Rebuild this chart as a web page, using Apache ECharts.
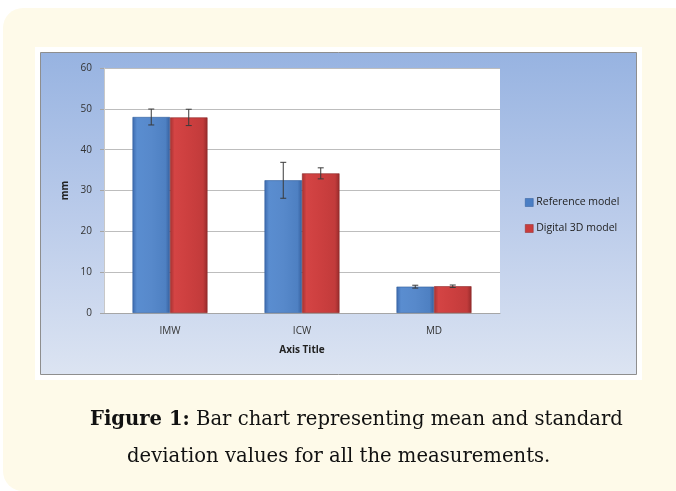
<!DOCTYPE html>
<html>
<head>
<meta charset="utf-8">
<script src="https://cdn.jsdelivr.net/npm/echarts@6/dist/echarts.min.js"></script>
<style>
html,body{margin:0;padding:0;background:#ffffff;}
#chart{width:676px;height:491px;}
</style>
</head>
<body>
<div id="chart"></div>
<script>
// ---- data ----
var categories = ['IMW', 'ICW', 'MD'];
var seriesNames = ['Reference model', 'Digital 3D model'];
var refMeans = [48.0, 32.5, 6.45];
var refSD = [1.95, 4.4, 0.35];
var digMeans = [47.9, 34.2, 6.55];
var digSD = [2.0, 1.35, 0.3];
var yTicks = [0, 10, 20, 30, 40, 50, 60];
var xAxisTitle = 'Axis Title';
var yAxisTitle = 'mm';
var captionBold = 'Figure 1:';
var captionLine1 = ' Bar chart representing mean and standard';
var captionLine2 = 'deviation values for all the measurements.';

var chart = echarts.init(document.getElementById('chart'), null, {renderer: 'canvas'});

var BAR_FRAC = 0.284; // bar width as fraction of category band
var labelFont = '"Open Sans", "Liberation Sans", sans-serif';

function blueGrad() {
  return new echarts.graphic.LinearGradient(0, 0, 1, 0, [
    {offset: 0, color: '#3D6BAE'},
    {offset: 0.12, color: '#5A8DD0'},
    {offset: 0.5, color: '#5789CB'},
    {offset: 0.88, color: '#4E80C2'},
    {offset: 1, color: '#35609F'}
  ]);
}
function redGrad() {
  return new echarts.graphic.LinearGradient(0, 0, 1, 0, [
    {offset: 0, color: '#A53232'},
    {offset: 0.12, color: '#D44444'},
    {offset: 0.5, color: '#CC3F3F'},
    {offset: 0.88, color: '#C23B3B'},
    {offset: 1, color: '#962B2B'}
  ]);
}

function errorSeries(means, sds, sign, z) {
  return {
    type: 'custom',
    z: z,
    silent: true,
    data: categories.map(function (c, i) { return [i, means[i] - sds[i], means[i] + sds[i]]; }),
    renderItem: function (params, api) {
      var idx = api.value(0);
      var lo = api.coord([idx, api.value(1)]);
      var hi = api.coord([idx, api.value(2)]);
      var band = api.size([1, 0])[0];
      var x = lo[0] + sign * band * BAR_FRAC / 2;
      var cap = 3;
      var st = {stroke: '#3a3a3a', lineWidth: 1};
      return {
        type: 'group',
        children: [
          {type: 'line', shape: {x1: x, y1: lo[1], x2: x, y2: hi[1]}, style: st},
          {type: 'line', shape: {x1: x - cap, y1: lo[1], x2: x + cap, y2: lo[1]}, style: st},
          {type: 'line', shape: {x1: x - cap, y1: hi[1], x2: x + cap, y2: hi[1]}, style: st}
        ]
      };
    }
  };
}

var option = {
  animation: false,
  textStyle: {fontFamily: labelFont},
  graphic: [
    {type: 'rect', z: -100, shape: {x: 3, y: 8, width: 690, height: 483, r: 20}, style: {fill: '#FEFAE9'}},
    {type: 'rect', z: -99, shape: {x: 35, y: 47, width: 607, height: 333}, style: {fill: '#ffffff'}},
    {type: 'rect', z: -98, shape: {x: 40.5, y: 52.5, width: 596, height: 322},
      style: {
        fill: new echarts.graphic.LinearGradient(0, 0, 0, 1, [
          {offset: 0, color: '#97B3E1'},
          {offset: 0.5, color: '#BACBEA'},
          {offset: 1, color: '#DCE4F2'}
        ]),
        stroke: '#8E8E8E', lineWidth: 1
      }
    },
    {type: 'text', left: 90, top: 410, z: 10,
      style: {
        text: '{b|' + captionBold + '}{r|' + captionLine1 + '}',
        rich: {
          b: {fontFamily: '"DejaVu Serif", serif', fontSize: 19.6, fontWeight: 'bold', fill: '#111'},
          r: {fontFamily: '"DejaVu Serif", serif', fontSize: 19.6, fill: '#111'}
        }
      }
    },
    {type: 'text', left: 127, top: 447, z: 10,
      style: {text: captionLine2, font: '19.6px "DejaVu Serif", serif', fill: '#111'}
    }
  ],
  grid: {
    left: 104, top: 68, width: 396, height: 245,
    show: true, backgroundColor: '#ffffff', borderWidth: 0,
    containLabel: false
  },
  legend: {
    orient: 'vertical',
    left: 520, top: 192,
    itemWidth: 8, itemHeight: 8, itemGap: 15,
    icon: 'rect',
    textStyle: {fontFamily: labelFont, fontSize: 10.5, color: '#222', padding: [0, 0, 0, -2]},
    data: [
      {name: seriesNames[0], itemStyle: {color: '#4A7EC4', borderColor: '#2E5A99', borderWidth: 0.5}},
      {name: seriesNames[1], itemStyle: {color: '#C93C3C', borderColor: '#8E2828', borderWidth: 0.5}}
    ]
  },
  xAxis: {
    type: 'category',
    data: categories,
    axisLine: {show: true, lineStyle: {color: '#A6A6A6', width: 1}},
    axisTick: {show: false},
    axisLabel: {color: '#333', fontSize: 10, margin: 13, fontFamily: labelFont},
    name: xAxisTitle,
    nameLocation: 'middle',
    nameGap: 32,
    nameTextStyle: {fontWeight: 'bold', fontSize: 10, color: '#222', fontFamily: labelFont}
  },
  yAxis: {
    type: 'value',
    min: yTicks[0], max: yTicks[yTicks.length - 1], interval: 10,
    axisLine: {show: true, lineStyle: {color: '#C8C8C8'}},
    axisTick: {show: true, length: 4, lineStyle: {color: '#A6A6A6'}},
    axisLabel: {color: '#333', fontSize: 10, margin: 12, fontFamily: labelFont},
    splitLine: {show: true, lineStyle: {color: '#BDBDBD', width: 1}},
    name: yAxisTitle,
    nameLocation: 'middle',
    nameGap: 29,
    nameRotate: 90,
    nameTextStyle: {fontWeight: 'bold', fontSize: 10, color: '#222', fontFamily: labelFont}
  },
  series: [
    {
      name: seriesNames[0], type: 'bar', data: refMeans,
      barWidth: (BAR_FRAC * 100) + '%', barGap: '0%',
      itemStyle: {color: blueGrad(), borderColor: '#2F5C9C', borderWidth: 0.6}
    },
    {
      name: seriesNames[1], type: 'bar', data: digMeans,
      barWidth: (BAR_FRAC * 100) + '%', barGap: '0%',
      itemStyle: {color: redGrad(), borderColor: '#8C2727', borderWidth: 0.6}
    },
    errorSeries(refMeans, refSD, -1, 5),
    errorSeries(digMeans, digSD, 1, 5)
  ]
};
chart.setOption(option);
</script>
</body>
</html>
